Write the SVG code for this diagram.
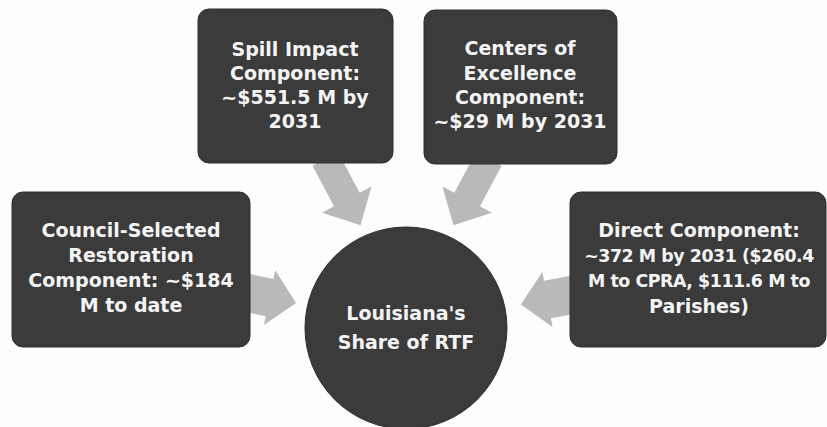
<svg xmlns="http://www.w3.org/2000/svg" width="827" height="427" viewBox="0 0 827 427">
<style>
.box{fill:#3b3b3b;stroke:#2e2e2e;stroke-width:1}
.arrow{fill:#b9b9b9}
.t{font-family:"DejaVu Sans",sans-serif;font-weight:bold;font-size:19px;fill:#f4f4f4;text-anchor:middle}
.n{font-size:17.4px;letter-spacing:-0.45px}
</style>
<defs>
<path id="arrTop" d="M-8,-14.5 L38,-14.5 L38,-28 L67,0 L38,28 L38,14.5 L-8,14.5 Z"/>
<path id="arrL" d="M-8,-19 L20,-19 L20,-28 L47,0 L20,28 L20,19 L-8,19 Z"/>
<path id="arrR" d="M-8,-19 L25,-19 L25,-28 L52,0 L25,28 L25,19 L-8,19 Z"/>
</defs>
<rect width="827" height="427" fill="#fdfdfd"/>
<g id="connectors">
<use href="#arrTop" class="arrow" transform="translate(329,166) rotate(62)"/>
<use href="#arrTop" class="arrow" transform="translate(485,166) rotate(118)"/>
<use href="#arrL" class="arrow" transform="translate(250,293.5) rotate(11.7)"/>
<use href="#arrR" class="arrow" transform="translate(572,295) rotate(169.5)"/>
</g>
<g id="spill">
<rect class="box" x="198" y="9" width="195" height="154" rx="11"/>
<text class="t" x="295" y="56">Spill Impact</text>
<text class="t" x="295" y="80">Component:</text>
<text class="t" x="295" y="104">~$551.5 M by</text>
<text class="t" x="295" y="128">2031</text>
</g>
<g id="centers">
<rect class="box" x="424" y="10" width="193" height="154" rx="11"/>
<text class="t" x="520" y="55">Centers of</text>
<text class="t" x="520" y="79.5">Excellence</text>
<text class="t" x="520" y="104">Component:</text>
<text class="t" x="520" y="128">~$29 M by 2031</text>
</g>
<g id="council">
<rect class="box" x="12" y="192" width="238" height="155" rx="11"/>
<text class="t" x="131" y="237">Council-Selected</text>
<text class="t" x="131" y="262">Restoration</text>
<text class="t" x="131" y="287">Component: ~$184</text>
<text class="t" x="131" y="312">M to date</text>
</g>
<g id="direct">
<rect class="box" x="570" y="192" width="256" height="155" rx="11"/>
<text class="t" x="699" y="237">Direct Component:</text>
<text class="t n" x="699" y="262">~372 M by 2031 ($260.4</text>
<text class="t n" x="699" y="287">M to CPRA, $111.6 M to</text>
<text class="t" x="699" y="313">Parishes)</text>
</g>
<g id="louisiana">
<circle class="box" cx="406" cy="328" r="101"/>
<text class="t" x="406" y="320">Louisiana's</text>
<text class="t" x="406" y="349">Share of RTF</text>
</g>
</svg>
